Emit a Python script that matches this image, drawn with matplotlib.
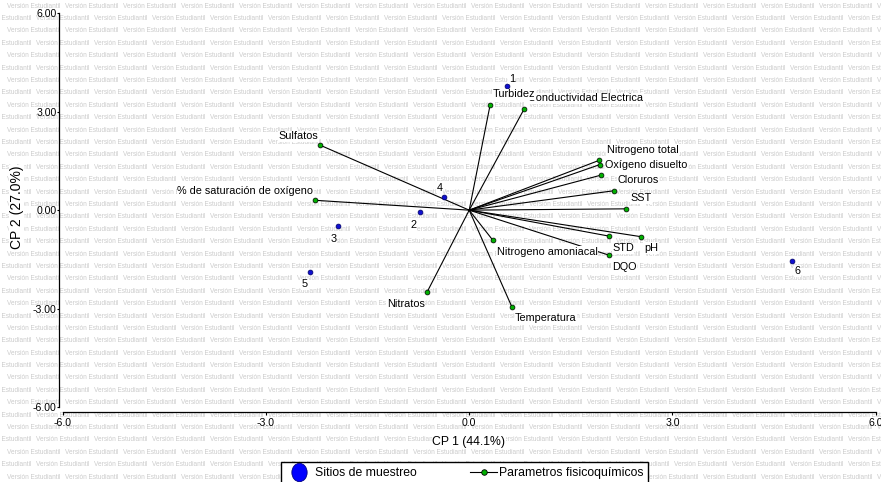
import matplotlib
matplotlib.use('Agg')
import matplotlib.pyplot as plt
from matplotlib.lines import Line2D
from matplotlib.markers import MarkerStyle
from matplotlib.transforms import Affine2D

plt.rcParams['font.family'] = ['Liberation Sans', 'DejaVu Sans']

# sitios de muestreo (scores)
sites = ['1', '2', '3', '4', '5', '6']
site_x = [0.56, -0.72, -1.93, -0.37, -2.35, 4.77]
site_y = [3.78, -0.07, -0.49, 0.39, -1.88, -1.55]

# parametros fisicoquimicos (loadings)
params = ['Conductividad Electrica', 'Turbidez', 'Sulfatos',
          '% de saturación de oxígeno', 'Nitrogeno total', '',
          'Oxígeno disuelto', 'Cloruros', 'SST', 'STD', 'pH', 'DQO',
          'Nitrogeno amoniacal', 'Nitratos', 'Temperatura']
param_x = [0.81, 0.31, -2.20, -2.27, 1.92, 1.93, 1.95, 2.13, 2.32,
           2.06, 2.54, 2.06, 0.35, -0.62, 0.63]
param_y = [3.08, 3.22, 1.98, 0.30, 1.52, 1.39, 1.07, 0.59, 0.04,
           -0.79, -0.81, -1.37, -0.92, -2.49, -2.95]

ticks = [-6, -3, 0, 3, 6]
xlab = 'CP 1 (44.1%)'
ylab = 'CP 2 (27.0%)'

# label offsets in pixels (dx, dy, ha)
site_off = [(4.7, 7.5), (-6.7, -12.7), (-5, -12.3), (-4.7, 9.6), (-5, -12.6), (5, -10)]
param_off = [(4.3, 10.7, 'left'), (2.7, 10.3, 'left'), (-1.7, 9, 'right'),
             (-2.3, 9.6, 'right'), (7.7, 10, 'left'), (0, 0, 'left'),
             (4, 10, 'left'), (3.7, 10.7, 'left'), (3.7, 10.7, 'left'),
             (3.4, -12, 'left'), (2.7, -11.3, 'left'), (3.4, -11.7, 'left'),
             (4, -11.4, 'left'), (-2.3, -12.6, 'right'), (3.3, -10.6, 'left')]

W, H = 881, 482
fig = plt.figure(figsize=(W / 100, H / 100), dpi=100)

# watermark
k = 0
yy = 6.0
while yy < H + 6:
    x0 = 6.7 if k % 2 == 0 else 6.7 - 29
    xx = x0
    while xx < W:
        fig.text(xx / W, 1 - yy / H, 'Versión Estudiantil', fontsize=4.7,
                 color='#cbcbcb', ha='left', va='center', zorder=-5)
        xx += 58
    yy += 12.4
    k += 1

ax = fig.add_axes([62.7 / W, 1 - 407 / H, 813 / W, 393.7 / H])
ax.patch.set_visible(False)

for x, y in zip(param_x, param_y):
    ax.plot([0, x], [0, y], color='black', lw=0.8, zorder=2)
ax.plot(param_x, param_y, 'o', ls='none', mfc='#00b000', mec='black',
        ms=3.5, mew=0.5, zorder=3)
ax.plot(site_x, site_y, 'o', ls='none', mfc='#1010d0', mec='#000060',
        ms=3.5, mew=0.5, zorder=3)

box = dict(boxstyle='square,pad=0.05', fc='white', ec='none')
for name, x, y, (dx, dy, ha) in zip(params, param_x, param_y, param_off):
    if name:
        ax.annotate(name, (x, y), xytext=(dx, dy), textcoords='offset pixels',
                    ha=ha, va='center', fontsize=7.8, bbox=box, zorder=4)
for name, x, y, (dx, dy) in zip(sites, site_x, site_y, site_off):
    ax.annotate(name, (x, y), xytext=(dx, dy), textcoords='offset pixels',
                ha='center', va='center', fontsize=7.8, bbox=box, zorder=4)

ax.set_xlim(-6, 6)
ax.set_ylim(-6, 6)
ax.tick_params(axis='y', direction='out', length=1.5, width=0.8, pad=0.3, labelsize=7.6)
ax.tick_params(axis='x', direction='out', length=2.2, width=0.8, pad=2, labelsize=7.6)
ax.set_xticks(ticks, ['%.1f' % t for t in ticks])
ax.set_yticks(ticks, ['%.2f' % t for t in ticks])
for lbl in ax.get_xticklabels() + ax.get_yticklabels():
    lbl.set_fontweight('bold')
    lbl.set_bbox(dict(boxstyle='square,pad=0.05', fc='white', ec='none'))
ax.spines['top'].set_visible(False)
ax.spines['right'].set_visible(False)
ax.spines['left'].set_position(('outward', 2.5))
ax.spines['bottom'].set_position(('outward', 3.6))
ax.spines['left'].set_linewidth(0.9)
ax.spines['bottom'].set_linewidth(0.9)

fig.text(469 / W, 1 - 441.7 / H, xlab, fontsize=8.8, ha='center', va='center',
         bbox=box)
fig.text(16.7 / W, 1 - 207 / H, ylab, fontsize=10, ha='center', va='center',
         rotation=90, bbox=box)

h1 = Line2D([], [], ls='none', marker=MarkerStyle('o', transform=Affine2D().scale(1, 1.2)),
            ms=11, mfc='#0000ff', mec='#000080', mew=0.6)
h2 = Line2D([], [], color='black', lw=0.8, marker='o', mfc='#00b000', mec='black',
            ms=4, mew=0.6)
leg = fig.legend([h1, h2], ['Sitios de muestreo', 'Parametros fisicoquímicos'],
                 loc='upper left', bbox_to_anchor=(281 / W, 1 - 462 / H),
                 bbox_transform=fig.transFigure, ncol=2, fontsize=8.8,
                 frameon=True, fancybox=False, framealpha=1, edgecolor='black',
                 handlelength=2.2, handletextpad=0.15, columnspacing=4.4,
                 borderpad=0.4, borderaxespad=0)
leg.get_frame().set_linewidth(1.0)

fig.savefig('out.png', dpi=100)
